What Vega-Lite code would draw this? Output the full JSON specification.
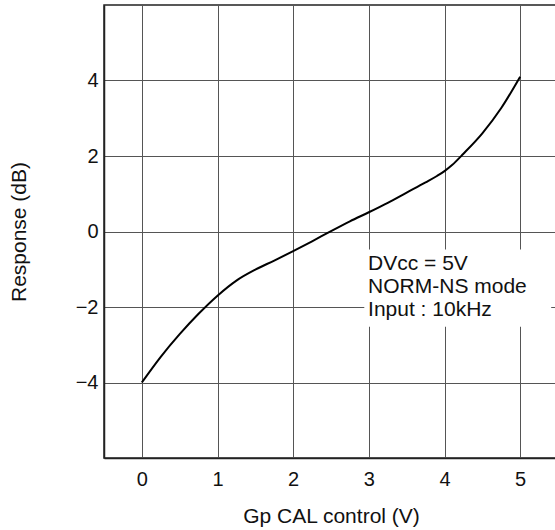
{
  "$schema": "https://vega.github.io/schema/vega-lite/v6.json",
  "autosize": {"type": "none"},
  "width": 454,
  "height": 453,
  "padding": {"left": 104, "top": 5, "right": 0, "bottom": 72},
  "background": "white",
  "config": {
    "font": "Liberation Sans",
    "view": {"stroke": "#222", "strokeWidth": 1.5},
    "axis": {
      "grid": true,
      "gridColor": "#555",
      "gridWidth": 1,
      "gridOpacity": 1,
      "ticks": false,
      "domainColor": "#222",
      "domainWidth": 1.5,
      "labelFont": "Liberation Sans",
      "labelFontSize": 20,
      "labelColor": "#111",
      "titleFont": "Liberation Sans",
      "titleFontSize": 21,
      "titleFontWeight": "normal",
      "titleColor": "#111"
    }
  },
  "datasets": {
    "curve": [
      {"v": 0.0, "r": -4.0},
      {"v": 0.25, "r": -3.32},
      {"v": 0.5, "r": -2.72},
      {"v": 0.75, "r": -2.18},
      {"v": 1.0, "r": -1.7},
      {"v": 1.25, "r": -1.3},
      {"v": 1.5, "r": -1.01},
      {"v": 1.75, "r": -0.77},
      {"v": 2.0, "r": -0.52},
      {"v": 2.25, "r": -0.26},
      {"v": 2.5, "r": 0.01},
      {"v": 2.75, "r": 0.27},
      {"v": 3.0, "r": 0.51},
      {"v": 3.25, "r": 0.76},
      {"v": 3.5, "r": 1.03},
      {"v": 3.75, "r": 1.3},
      {"v": 3.9, "r": 1.47},
      {"v": 4.0, "r": 1.6},
      {"v": 4.1, "r": 1.76},
      {"v": 4.25, "r": 2.06},
      {"v": 4.5, "r": 2.6},
      {"v": 4.75, "r": 3.27},
      {"v": 5.0, "r": 4.1}
    ],
    "box": [{"x1": 2.94, "x2": 5.41, "y1": -0.48, "y2": -2.52}],
    "notes": [
      {"x": 2.99, "y": -1.03, "t": "DVcc = 5V"},
      {"x": 2.99, "y": -1.63, "t": "NORM-NS mode"},
      {"x": 2.99, "y": -2.23, "t": "Input : 10kHz"}
    ]
  },
  "layer": [
    {
      "data": {"name": "box"},
      "mark": {"type": "rect", "color": "white", "opacity": 1},
      "encoding": {
        "x": {"field": "x1", "type": "quantitative", "scale": {"domain": [-0.5, 5.5], "nice": false, "zero": false},
              "axis": {"title": "Gp CAL control (V)", "values": [0, 1, 2, 3, 4, 5], "format": "d", "labelPadding": 11, "titlePadding": 16}},
        "x2": {"field": "x2"},
        "y": {"field": "y1", "type": "quantitative", "scale": {"domain": [-6, 6], "nice": false, "zero": false},
              "axis": {"title": "Response (dB)", "values": [-4, -2, 0, 2, 4], "format": "d", "labelPadding": 6, "titlePadding": 46}},
        "y2": {"field": "y2"}
      }
    },
    {
      "data": {"name": "notes"},
      "mark": {"type": "text", "align": "left", "baseline": "alphabetic", "fontSize": 21, "color": "#111", "font": "Liberation Sans"},
      "encoding": {
        "x": {"field": "x", "type": "quantitative"},
        "y": {"field": "y", "type": "quantitative"},
        "text": {"field": "t"}
      }
    },
    {
      "data": {"name": "curve"},
      "mark": {"type": "line", "color": "black", "strokeWidth": 2, "interpolate": "monotone"},
      "encoding": {
        "x": {"field": "v", "type": "quantitative"},
        "y": {"field": "r", "type": "quantitative"}
      }
    }
  ]
}
